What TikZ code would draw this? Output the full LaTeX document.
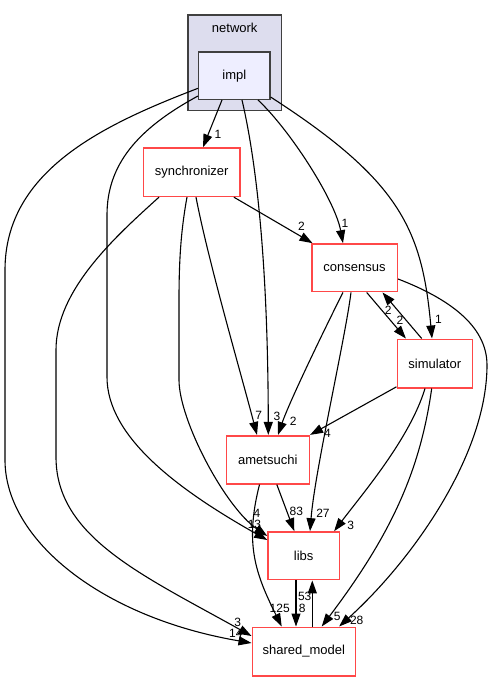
\documentclass[tikz,border=0pt]{standalone}
\usepackage{fontspec}
\setmainfont{Liberation Sans}
\usetikzlibrary{arrows.meta,calc}
\definecolor{boxred}{RGB}{255,72,72}
\definecolor{clfill}{RGB}{221,221,238}
\definecolor{implfill}{RGB}{238,238,255}
\definecolor{clborder}{RGB}{64,64,64}
\tikzset{
  dirbox/.style={draw=boxred, fill=white, line width=1.6pt, inner sep=0pt, font=\fontsize{13}{15}\selectfont},
  edge/.style={-{Triangle[length=13pt,width=9pt]}, line width=1.1pt, black},
  lbl/.style={inner sep=0pt, font=\fontsize{12}{14}\selectfont},
}
\begin{document}
\begin{tikzpicture}[x=1pt,y=-1pt]
\useasboundingbox (0,0) rectangle (496,681);
\fill[white] (0,0) rectangle (496,681);
% cluster
\node[draw=clborder, fill=clfill, line width=1.3pt, minimum width=93.5pt, minimum height=95.5pt, inner sep=0pt] (net) at (234.7,62.8) {};
\node[inner sep=0pt, font=\fontsize{13}{15}\selectfont] (netlbl) at (234.7,28) {network};
\node[draw=clborder, fill=implfill, line width=1.3pt, minimum width=71.3pt, minimum height=47.3pt, inner sep=0pt, font=\fontsize{13}{15}\selectfont] (impl) at (234.3,75.7) {impl};
% directories
\node[dirbox, minimum width=96.7pt, minimum height=48.3pt] (sync) at (191.7,172.2) {synchronizer};
\node[dirbox, minimum width=85.6pt, minimum height=47.7pt] (cons) at (354.5,267.8) {consensus};
\node[dirbox, minimum width=75pt, minimum height=48.4pt] (sim) at (434.8,363.5) {simulator};
\node[dirbox, minimum width=83pt, minimum height=48pt] (amet) at (267.8,459.7) {ametsuchi};
\node[dirbox, minimum width=71.3pt, minimum height=47.7pt] (libs) at (303.7,555.8) {libs};
\node[dirbox, minimum width=103pt, minimum height=48.4pt] (shm) at (303.8,651.5) {shared\_model};
% edges
\draw[edge] ($(impl.south)+(-12.3,0)$) -- ($(sync.north)+(11.3,0)$);
\draw[edge] ($(impl.south)+(23.7,0)$) .. controls (290,130) and (335,200) .. ($(cons.north)+(-11.5,0)$);
\draw[edge] ($(impl.south east)+(0,-3)$) .. controls (400,180.5) and (422,229) .. ($(sim.north)+(-2.8,0)$);
\draw[edge] ($(impl.south)+(7.7,0)$) .. controls (256,160) and (268,260) .. ($(amet.north)+(0.5,0)$);
\draw[edge] ($(impl.west)+(0,20.3)$) .. controls (137,129) and (107,165) .. (107,215) -- (107,377) .. controls (107,437) and (178,489.6) .. ($(libs.west)+(0,-15.8)$);
\draw[edge] ($(impl.west)+(0,12.6)$) .. controls (105,124) and (5,170) .. (5,270) -- (5,460) .. controls (5,540) and (102,617.5) .. ($(shm.west)+(0,-8.5)$);
\draw[edge] ($(sync.south east)+(-7,0)$) -- ($(cons.north west)+(1.6,0)$);
\draw[edge] ($(sync.south)+(4.3,0)$) .. controls (208,260) and (240,370) .. ($(amet.north)+(-10.8,0)$);
\draw[edge] ($(sync.south)+(-4.7,0)$) .. controls (181,230) and (179,260) .. (179,300) -- (179,380) .. controls (179,420) and (225,507) .. ($(libs.west)+(0,-19.8)$);
\draw[edge] ($(sync.south)+(-32.7,0)$) .. controls (115,237) and (56,290) .. (56,350) -- (56,457) .. controls (56,537) and (142.3,575) .. ($(shm.west)+(0,-15.5)$);
\draw[edge] ($(cons.south)+(-11.5,0)$) .. controls (330,318) and (290,400) .. ($(amet.north)+(10.2,0)$);
\draw[edge] ($(cons.south)+(-3.5,0)$) .. controls (345,340) and (315,470) .. ($(libs.north)+(6.3,0)$);
\draw[edge] ($(cons.south)+(12.2,0)$) -- ($(sim.north west)+(9.4,0)$);
\draw[edge] ($(sim.north)+(-13.1,0)$) -- ($(cons.south east)+(-15.6,0)$);
\draw[edge] ($(cons.east)+(0,11.2)$) .. controls (447.3,298) and (487,325) .. (487,365) .. controls (487,455) and (412.3,560.3) .. ($(shm.north east)+(-17,0)$);
\draw[edge] ($(sim.south west)+(0,-1.7)$) -- (amet.north east);
\draw[edge] ($(sim.south)+(-9.8,0)$) .. controls (410,438) and (363.8,492.2) .. ($(libs.north east)+(-6,0)$);
\draw[edge] ($(sim.south)+(-3.1,0)$) .. controls (420.5,467.7) and (393.7,531.3) .. ($(shm.north)+(17.9,0)$);
\draw[edge] ($(amet.south)+(9,0)$) -- ($(libs.north)+(-9.4,0)$);
\draw[edge] ($(amet.south)+(-8.3,0)$) .. controls (244.5,543.7) and (255.3,573.3) .. ($(shm.north)+(-22.1,0)$);
\draw[edge] ($(libs.south)+(-7.7,0)$) -- ($(shm.north)+(-7.8,0)$);
\draw[edge] ($(shm.north)+(8.5,0)$) -- ($(libs.south)+(8.6,0)$);
% labels
\node[lbl] (l1) at (218,134.5) {1};
\node[lbl] (l2) at (345,223) {1};
\node[lbl] (l3) at (438.5,319.5) {1};
\node[lbl] (l4) at (277,416.7) {3};
\node[lbl] (l5) at (257,513) {4};
\node[lbl] (l6) at (235.8,633.2) {14};
\node[lbl] (l7) at (301.5,226) {2};
\node[lbl] (l8) at (258.8,415) {7};
\node[lbl] (l9) at (254.5,524.5) {13};
\node[lbl] (l10) at (237.8,622.5) {3};
\node[lbl] (l11) at (293.3,421) {2};
\node[lbl] (l12) at (323,513.5) {27};
\node[lbl] (l13) at (400,320) {2};
\node[lbl] (l14) at (388.3,310.5) {2};
\node[lbl] (l15) at (356.7,620.7) {28};
\node[lbl] (l16) at (327.5,433) {4};
\node[lbl] (l17) at (350.7,525) {3};
\node[lbl] (l18) at (337.3,616.7) {5};
\node[lbl] (l19) at (296.3,511) {83};
\node[lbl] (l20) at (279.7,608) {125};
\node[lbl] (l21) at (302.3,608.5) {8};
\node[lbl] (l22) at (304.7,596.5) {53};
\end{tikzpicture}
\end{document}
